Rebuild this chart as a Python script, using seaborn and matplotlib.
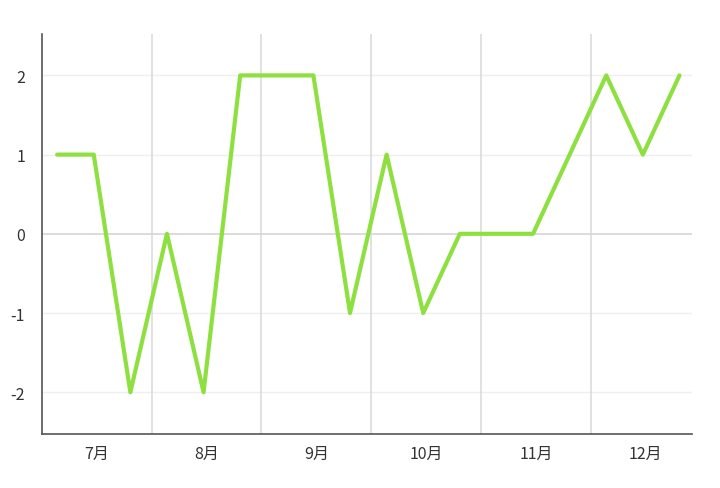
import numpy as np
import pandas as pd
import matplotlib
matplotlib.use("Agg")
import matplotlib.pyplot as plt
import seaborn as sns

months = ["7月", "8月", "9月", "10月", "11月", "12月"]
points_per_month = 3
values = [1, 1, -2, 0, -2, 2, 2, 2, -1, 1, -1, 0, 0, 0, 1, 2, 1, 2]
y_ticks = [-2, -1, 0, 1, 2]

sns.set_theme(style="white")
plt.rcParams['font.family'] = ['Noto Sans CJK SC', 'DejaVu Sans']

idx = np.arange(len(values))
df = pd.DataFrame({"x": idx / points_per_month + 0.14, "y": values})

fig = plt.figure(figsize=(7.2, 4.89), dpi=100)
ax = fig.add_axes([0.058, 0.110, 0.903, 0.818])

sns.lineplot(data=df, x="x", y="y", ax=ax, color="#8ee040", linewidth=3.0, zorder=3)

ax.set_xlim(0, 5.92)
ax.set_ylim(-2.53, 2.52)

# grid lines
for yv in y_ticks:
    if yv == 0:
        ax.axhline(yv, color="#d2d2d2", linewidth=1.1, zorder=1)
    else:
        ax.axhline(yv, color="#efefef", linewidth=1.0, zorder=1)
for b in range(1, len(months)):
    ax.axvline(b, color="#d8d8d8", linewidth=1.1, zorder=1)

ax.set_xticks(np.arange(len(months)) + 0.5)
ax.set_xticklabels(months)
ax.set_yticks(y_ticks)
ax.set_yticklabels([str(v) for v in y_ticks])
ax.tick_params(axis="both", length=0, labelsize=11.5, colors="#333333")
ax.tick_params(axis="x", pad=8)
ax.tick_params(axis="y", pad=12)
ax.set_xlabel("")
ax.set_ylabel("")

for s in ["top", "right"]:
    ax.spines[s].set_visible(False)
for s in ["left", "bottom"]:
    ax.spines[s].set_color("#555555")
    ax.spines[s].set_linewidth(1.2)

fig.savefig("out.png", dpi=100)
